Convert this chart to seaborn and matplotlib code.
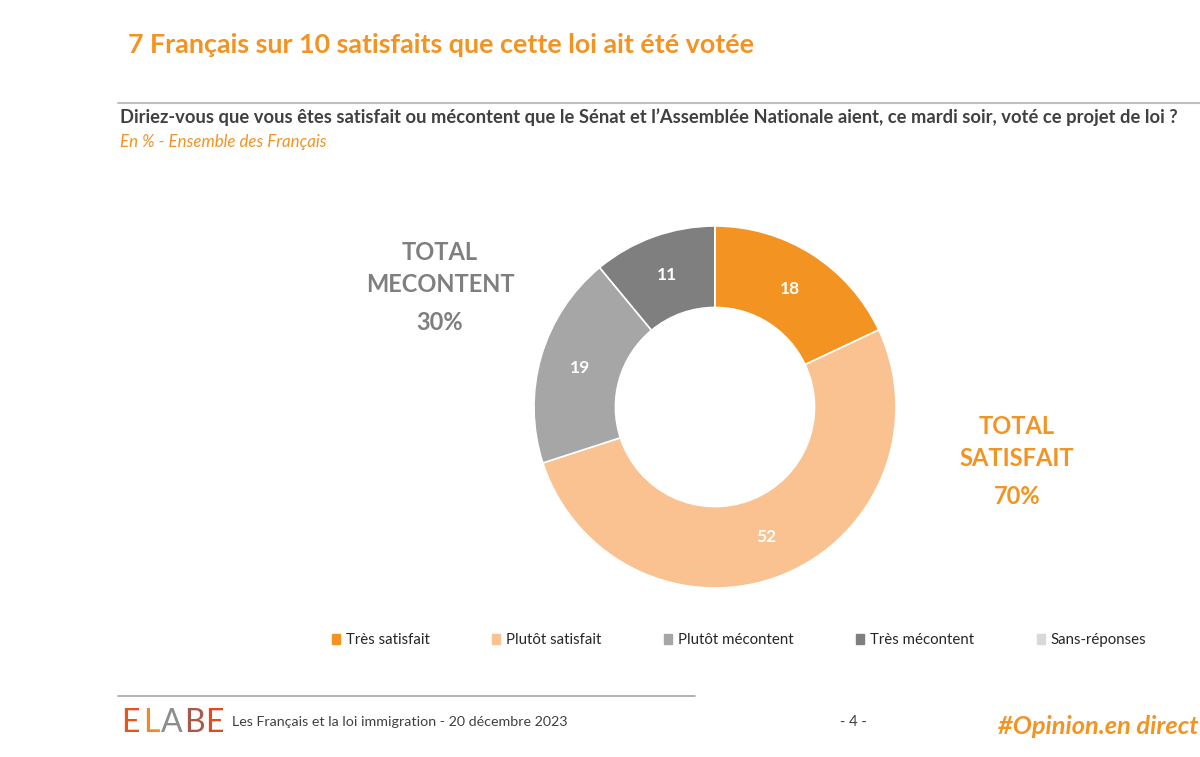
import matplotlib
matplotlib.use('Agg')
import matplotlib.pyplot as plt
import matplotlib.patches as mpatches
import numpy as np
import seaborn as sns

# données
categories = ['Très satisfait', 'Plutôt satisfait', 'Plutôt mécontent', 'Très mécontent', 'Sans-réponses']
valeurs = [18, 52, 19, 11, 0]
couleurs = ['#F39322', '#F9C290', '#A6A6A6', '#7F7F7F', '#D9D9D9']

ORANGE = '#F39322'
GRIS = '#7F7F7F'
W, H = 1200, 757

sns.set_theme(style='white')
plt.rcParams['font.family'] = ['Lato', 'DejaVu Sans']

fig = plt.figure(figsize=(W / 100, H / 100), dpi=100)
fig.patch.set_facecolor('white')


def fx(x):
    return x / W


def fy(y):
    return 1 - y / H


# titre et sous-titres
fig.text(fx(128), fy(45), '7 Français sur 10 satisfaits que cette loi ait été votée',
         color=ORANGE, fontsize=19.4, fontweight='bold', va='center', ha='left')
fig.add_artist(plt.Line2D([fx(118), fx(1200)], [fy(103), fy(103)], color='#BFBFBF', lw=1.5))
fig.text(fx(120), fy(117), "Diriez-vous que vous êtes satisfait ou mécontent que le Sénat et l’Assemblée Nationale aient, ce mardi soir, voté ce projet de loi ?",
         color='#404040', fontsize=13.25, fontweight='bold', va='center', ha='left')
fig.text(fx(120), fy(142), 'En % - Ensemble des Français', color=ORANGE, fontsize=12.2,
         style='italic', va='center', ha='left')

# donut
cx, cy, r = 715, 407, 181
ax = fig.add_axes([fx(cx - r), fy(cy + r), 2 * r / W, 2 * r / H])
wedges, _ = ax.pie(valeurs, colors=couleurs, startangle=90, counterclock=False, radius=1,
                   wedgeprops=dict(width=0.45, edgecolor='white', linewidth=1.2))
ax.set_xlim(-1, 1)
ax.set_ylim(-1, 1)
ax.set_aspect('equal')
ax.axis('off')

for w, v in zip(wedges, valeurs):
    if v == 0:
        continue
    ang = np.deg2rad((w.theta1 + w.theta2) / 2)
    rr = 1 - 0.45 / 2
    ax.text(rr * np.cos(ang), rr * np.sin(ang), str(v), color='white', fontsize=12.5,
            fontweight='bold', ha='center', va='center')

# totaux
total_mec = valeurs[2] + valeurs[3]
total_sat = valeurs[0] + valeurs[1]
for y, s in [(253, 'TOTAL'), (285, 'MECONTENT'), (322, f'{total_mec}%')]:
    fig.text(fx(440), fy(y), s, color=GRIS, fontsize=17, fontweight='bold',
             ha='center', va='center')
for y, s in [(427, 'TOTAL'), (459, 'SATISFAIT'), (497, f'{total_sat}%')]:
    fig.text(fx(1017), fy(y), s, color=ORANGE, fontsize=17, fontweight='bold',
             ha='center', va='center')

# légende
handles = [mpatches.Patch(color=c, label=l) for c, l in zip(couleurs, categories)]
leg = fig.legend(handles=handles, loc='center', bbox_to_anchor=(fx(739), fy(640)), ncol=5,
                 frameon=False, fontsize=10.8, handlelength=0.55, handleheight=0.7,
                 handletextpad=0.4, columnspacing=4.15)
for t in leg.get_texts():
    t.set_color('#262626')

# pied de page
fig.add_artist(plt.Line2D([fx(118), fx(695)], [fy(696), fy(696)], color='#A6A6A6', lw=1.2))
logo = [('E', '#E8541E', 130), ('L', '#F08A24', 151), ('A', '#8C8C8C', 172),
        ('B', '#A9574A', 194), ('E', '#E34A1C', 214)]
for lettre, c, lx in logo:
    fig.text(fx(lx), fy(723), lettre, color=c, fontsize=23, fontweight='normal',
             ha='center', va='center')
fig.text(fx(232), fy(722), 'Les Français et la loi immigration - 20 décembre 2023',
         color='#404040', fontsize=10.3, ha='left', va='center')
fig.text(fx(853), fy(722), '- 4 -', color='#404040', fontsize=10.5, ha='center', va='center')
fig.text(fx(1199), fy(727), '#Opinion.en direct', color=ORANGE, fontsize=18.3,
         fontweight='bold', style='italic', ha='right', va='center')

fig.savefig('out.png', dpi=100, facecolor='white')
